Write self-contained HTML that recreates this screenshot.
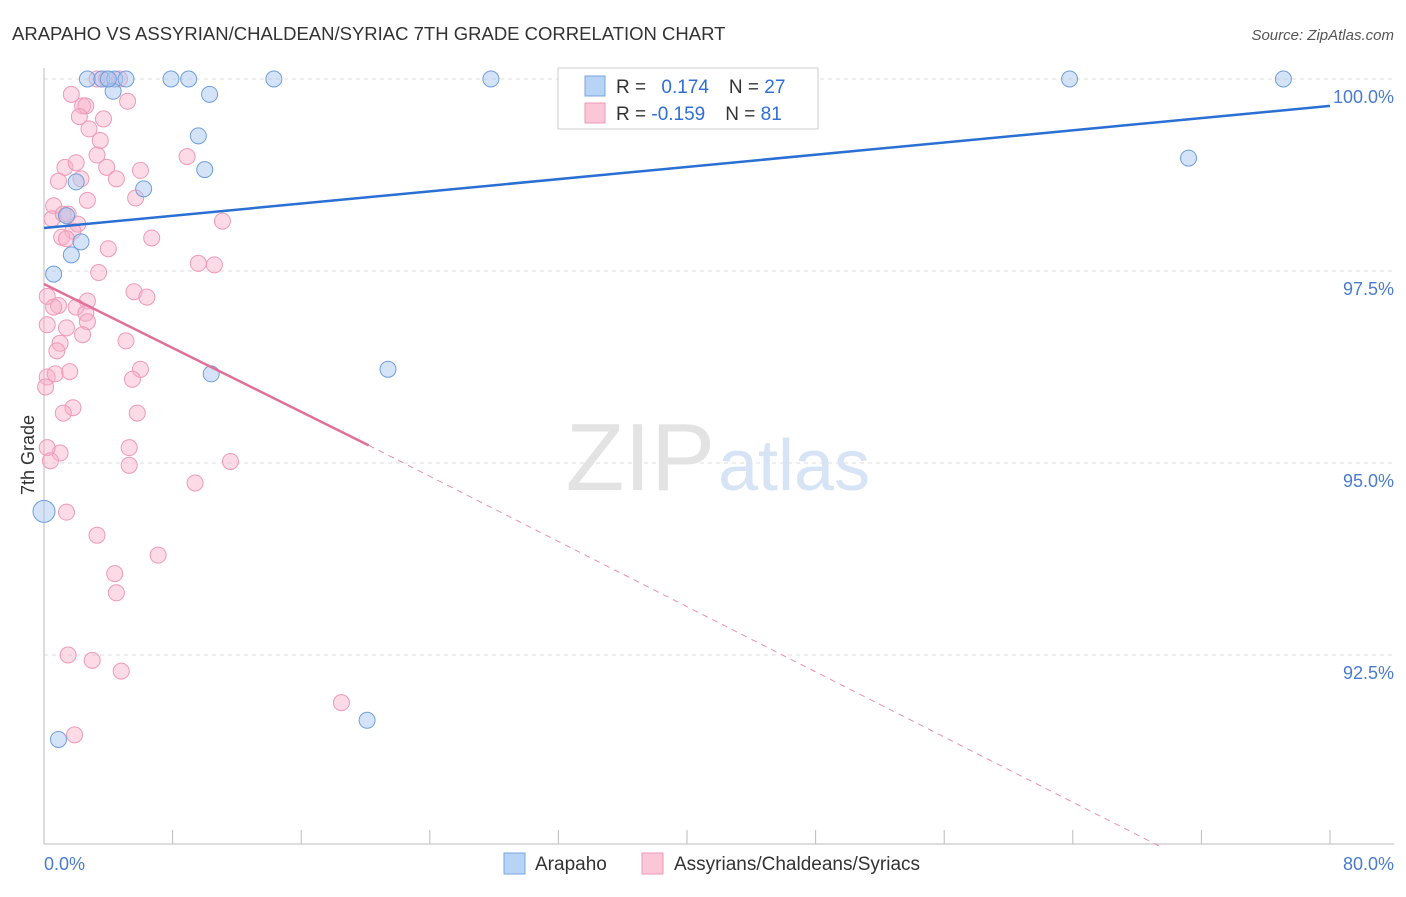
<!DOCTYPE html>
<html><head><meta charset="utf-8"><style>
body{margin:0;background:#fff;font-family:"Liberation Sans",sans-serif}
svg text{font-family:"Liberation Sans",sans-serif}
</style></head><body>
<svg id="c" width="1406" height="892">
<text x="12" y="40" font-size="18.5" fill="#333">ARAPAHO VS ASSYRIAN/CHALDEAN/SYRIAC 7TH GRADE CORRELATION CHART</text>
<text x="1394" y="40" font-size="15" fill="#555" font-style="italic" text-anchor="end">Source: ZipAtlas.com</text>
<g id="grid"></g>
<text x="715" y="490" font-size="96" fill="#e3e3e3" text-anchor="end" font-family="Liberation Serif">ZIP</text>
<text x="718" y="490" font-size="72" fill="#d6e4f5">atlas</text>
<g id="pts"></g>
<g id="lines"></g>
<text transform="translate(34,455) rotate(-90)" font-size="18" fill="#333" text-anchor="middle">7th Grade</text>
<text x="44" y="870" font-size="18" fill="#4a7bd0">0.0%</text>
<text x="1394" y="870" font-size="18" fill="#4a7bd0" text-anchor="end">80.0%</text>
<g>
<rect x="558" y="68" width="260" height="61" fill="#fff" stroke="#ccc"/>
<rect x="585" y="76" width="20" height="20" fill="#b7d3f5" stroke="#7aa6e0"/>
<rect x="585" y="103" width="20" height="20" fill="#fbc6d6" stroke="#ee9ab5"/>
<text x="616" y="93" font-size="19" fill="#333">R = <tspan fill="#2f6fd6" dx="10">0.174</tspan><tspan dx="20" fill="#333">N = </tspan><tspan fill="#2f6fd6">27</tspan></text>
<text x="616" y="120" font-size="19" fill="#333">R = <tspan fill="#2f6fd6">-0.159</tspan><tspan dx="20" fill="#333">N = </tspan><tspan fill="#2f6fd6">81</tspan></text>
</g>
<g>
<rect x="504" y="853" width="21" height="21" fill="#b7d3f5" stroke="#7aa6e0"/>
<text x="535" y="870" font-size="19" fill="#333">Arapaho</text>
<rect x="642" y="853" width="21" height="21" fill="#fbc6d6" stroke="#ee9ab5"/>
<text x="674" y="870" font-size="19" fill="#333">Assyrians/Chaldeans/Syriacs</text>
</g>
</svg>
<script>
const yTicks=[100,97.5,95,92.5];
const yTickLabels=["100.0%","97.5%","95.0%","92.5%"];
const xTicks=[0,8,16,24,32,40,48,56,64,72,80];
const blueX=[2.7,3.6,4.4,5.1,7.9,9.0,14.3,27.8,63.8,77.1,4.3,10.3,9.6,10.0,6.2,2.0,1.4,2.3,1.7,0.6,10.4,21.4,0.0,0.9,20.1,71.2,4.0];
const blueY=[100,100,100,100,100,100,100,100,100,100,99.84,99.8,99.26,98.82,98.57,98.66,98.22,97.88,97.71,97.46,96.16,96.22,94.37,91.4,91.65,98.97,100];
const pinkX=[3.3,3.9,4.7,1.7,5.2,2.4,2.6,2.2,3.7,2.8,3.5,3.3,8.9,1.3,2.0,3.9,6.0,2.3,0.9,4.5,5.7,2.7,0.6,0.5,1.2,1.5,2.1,1.8,1.1,1.4,6.7,4.0,11.1,9.6,10.6,3.4,0.2,5.6,6.4,0.9,2.7,0.6,2.0,2.6,0.2,1.4,2.7,2.4,1.0,5.1,0.8,0.2,0.7,1.6,6.0,5.5,0.1,1.8,1.2,5.8,5.3,1.0,0.2,0.4,5.3,11.6,9.4,1.4,3.3,7.1,4.4,4.5,1.5,3.0,4.8,18.5,1.9];
const pinkY=[100,100,100,99.8,99.71,99.65,99.65,99.51,99.48,99.35,99.2,99.01,98.99,98.85,98.91,98.85,98.81,98.7,98.67,98.7,98.45,98.42,98.35,98.18,98.24,98.24,98.11,98.02,97.94,97.92,97.93,97.79,98.15,97.6,97.58,97.48,97.17,97.23,97.16,97.05,97.11,97.03,97.03,96.95,96.8,96.76,96.84,96.67,96.56,96.59,96.46,96.12,96.16,96.19,96.22,96.09,95.99,95.72,95.65,95.65,95.2,95.13,95.2,95.03,94.97,95.02,94.74,94.36,94.06,93.8,93.56,93.31,92.5,92.43,92.29,91.88,91.46];
const blueLine=[98.06,99.65];
const pinkLine=[97.33,95.23,90.0];
const pinkLineX=[0,20.2,69.5];
const NS="http://www.w3.org/2000/svg";
const X=v=>44+v*16.075, Y=v=>79+(100-v)*76.8;
function mk(t,a,p){const e=document.createElementNS(NS,t);for(const k in a)e.setAttribute(k,a[k]);p.appendChild(e);return e;}
const g=document.getElementById('grid');
yTicks.forEach((v,i)=>{
 const l=mk('line',{x1:44,x2:1394,y1:Y(v),y2:Y(v),stroke:'#ddd','stroke-dasharray':'4,4'},g);
 
 
 const t=mk('text',{x:1394,y:Y(v)+24,'font-size':18,fill:'#4a7bd0','text-anchor':'end'},g);
 t.textContent=yTickLabels[i];
 
 
});
mk('line',{x1:44,x2:44,y1:68,y2:844,stroke:'#bbb'},g);
mk('line',{x1:44,x2:1394,y1:844,y2:844,stroke:'#bbb'},g);
xTicks.forEach(v=>{const l=mk('line',{x1:X(v),x2:X(v),y1:830,y2:844,stroke:'#bbb'},g);
 
 });
const p=document.getElementById('pts');
pinkX.forEach((x,i)=>{const c=mk('circle',{cx:X(x),cy:Y(pinkY[i]),r:8,fill:'rgba(248,175,199,0.45)',stroke:'#ee9ab5','stroke-width':1},p);
 
 });
blueX.forEach((x,i)=>{const c=mk('circle',{cx:X(x),cy:Y(blueY[i]),r:x===0?11:8,fill:'rgba(170,200,240,0.5)',stroke:'#6f9edc','stroke-width':1},p);
 
 });
const L=document.getElementById('lines');
let b=mk('line',{x1:X(0),y1:Y(blueLine[0]),x2:X(80),y2:Y(blueLine[1]),stroke:'#2a6fd4','stroke-width':2.5},L);


let s=mk('line',{x1:X(pinkLineX[0]),y1:Y(pinkLine[0]),x2:X(pinkLineX[1]),y2:Y(pinkLine[1]),stroke:'#e0709a','stroke-width':2.5},L);


let d=mk('line',{x1:X(pinkLineX[1]),y1:Y(pinkLine[1]),x2:X(pinkLineX[2]),y2:Y(pinkLine[2]),stroke:'#e890b0','stroke-width':1,'stroke-dasharray':'6,5'},L);


</script>
</body></html>
